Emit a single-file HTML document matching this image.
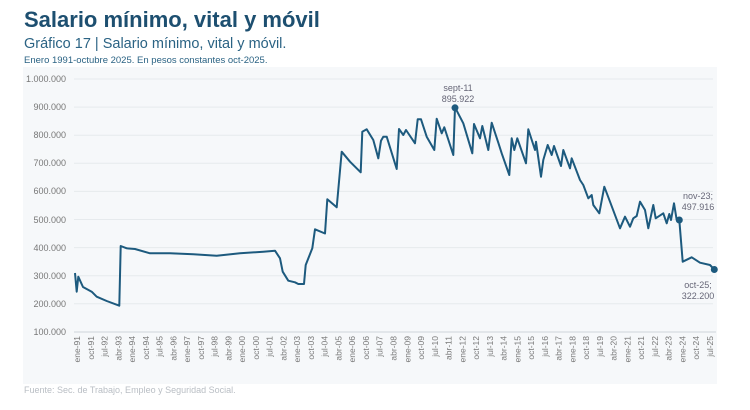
<!DOCTYPE html>
<html><head><meta charset="utf-8"><style>
body{margin:0;width:750px;height:405px;background:#fff;overflow:hidden;font-family:"Liberation Sans",sans-serif}
</style></head><body>
<svg width="750" height="405" viewBox="0 0 750 405" xmlns="http://www.w3.org/2000/svg" font-family="Liberation Sans, sans-serif">
<text x="24" y="27" font-size="22" font-weight="bold" fill="#1d4f70">Salario mínimo, vital y móvil</text>
<text x="24" y="48" font-size="14.5" fill="#2b6384">Gráfico 17 | Salario mínimo, vital y móvil.</text>
<text x="24" y="63" font-size="9.5" fill="#2b6384">Enero 1991-octubre 2025. En pesos constantes oct-2025.</text>
<rect x="23" y="67" width="694" height="317" fill="#f6f8fa"/>
<g stroke="#e6eaed" stroke-width="1">
<line x1="74" x2="713" y1="79" y2="79"/><line x1="74" x2="713" y1="107.1" y2="107.1"/><line x1="74" x2="713" y1="135.2" y2="135.2"/><line x1="74" x2="713" y1="163.3" y2="163.3"/><line x1="74" x2="713" y1="191.4" y2="191.4"/><line x1="74" x2="713" y1="219.5" y2="219.5"/><line x1="74" x2="713" y1="247.6" y2="247.6"/><line x1="74" x2="713" y1="275.7" y2="275.7"/><line x1="74" x2="713" y1="303.8" y2="303.8"/>
</g>
<line x1="74" x2="716" y1="332" y2="332" stroke="#cfd5da" stroke-width="1"/>
<g font-size="9" fill="#777" text-anchor="end">
<text x="66" y="82">1.000.000</text><text x="66" y="110">900.000</text><text x="66" y="138">800.000</text><text x="66" y="166">700.000</text><text x="66" y="194">600.000</text><text x="66" y="223">500.000</text><text x="66" y="251">400.000</text><text x="66" y="279">300.000</text><text x="66" y="307">200.000</text><text x="66" y="335">100.000</text>
</g>
<g font-size="8.5" fill="#777" text-anchor="end" id="xl"></g>
<polyline fill="none" stroke="#1d5a7e" stroke-width="2" stroke-linejoin="round" points="75,273 76.7,291.7 78.3,276.7 83,287 91.7,291.7 96.7,296.7 106.7,301 119.3,305.7 120.7,246 126.7,248.3 135,249 150,253.3 170,253.3 193.3,254.3 216.7,255.7 240,253.3 263.3,251.7 275,250.7 280,258.3 282.7,271.7 288.3,280.7 295,282.3 298.3,284 304,284 305.7,265 312.3,248.3 315,229.3 325,233.5 327.3,199.3 336.7,207.3 341.7,151.7 350,161.7 360.7,172.3 362.3,131.7 366.7,129.3 373.3,140 378.3,158.3 381,140.7 383.3,136.7 386.7,136.7 396.7,169 399,129 403.3,135 406,130 415,143.3 417.7,119.3 421,119.3 426.7,136.7 434.3,150 436.7,118.7 441.7,133.3 444.3,127.3 453.3,155 455,107.3 463.3,123.3 472.3,153.3 474,124 480,138.3 482.3,126 488.3,150 491.7,122.7 498.3,142.7 501.7,153.3 509.3,175 511.7,138.3 514.3,150 517.3,138.3 526,163.3 528.3,129.3 535,150 536,141.7 541,176.7 543.3,160 547.7,145 551.7,155 554,146 561,166 563.3,150 570,168.3 571.7,158.3 580,180 583.3,185 588.3,198.3 591.7,195 593.3,205 599.3,213.3 604.3,186.7 610,201.7 620,228.3 625,216.7 630,226.7 633.3,218.3 636.7,216 640,201.7 645,210 648.3,228.3 653.3,205 655.7,218.3 663.3,213.3 666.7,223.3 669.3,214 671,220 674,203.3 676.7,220 679.3,220 682.7,261.7 691.7,257.3 700,262.7 710,265 714.3,269.5"/>
<circle cx="455" cy="107.8" r="3.5" fill="#1d5a7e"/>
<circle cx="679.3" cy="220" r="3.5" fill="#1d5a7e"/>
<circle cx="714.3" cy="269.5" r="3.5" fill="#1d5a7e"/>
<g font-size="9" fill="#667" text-anchor="middle">
<text x="458" y="91">sept-11</text><text x="458" y="102">895.922</text>
<text x="698" y="199">nov-23;</text><text x="698" y="210">497.916</text>
<text x="698" y="288">oct-25;</text><text x="698" y="299">322.200</text>
</g>
<text x="24" y="393" font-size="9" fill="#b9bec4">Fuente: Sec. de Trabajo, Empleo y Seguridad Social.</text>
</svg>
<script>
var labs=["ene-91","oct-91","jul-92","abr-93","ene-94","oct-94","jul-95","abr-96","ene-97","oct-97","jul-98","abr-99","ene-00","oct-00","jul-01","abr-02","ene-03","oct-03","jul-04","abr-05","ene-06","oct-06","jul-07","abr-08","ene-09","oct-09","jul-10","abr-11","ene-12","oct-12","jul-13","abr-14","ene-15","oct-15","jul-16","abr-17","ene-18","oct-18","jul-19","abr-20","ene-21","oct-21","jul-22","abr-23","ene-24","oct-24","jul-25"];
var g=document.getElementById("xl"),ns="http://www.w3.org/2000/svg";
for(var i=0;i<labs.length;i++){var x=77+i*(633/46);var t=document.createElementNS(ns,"text");t.setAttribute("transform","translate("+(x+3)+",336) rotate(-90)");t.textContent=labs[i];g.appendChild(t);}
</script>
</body></html>
